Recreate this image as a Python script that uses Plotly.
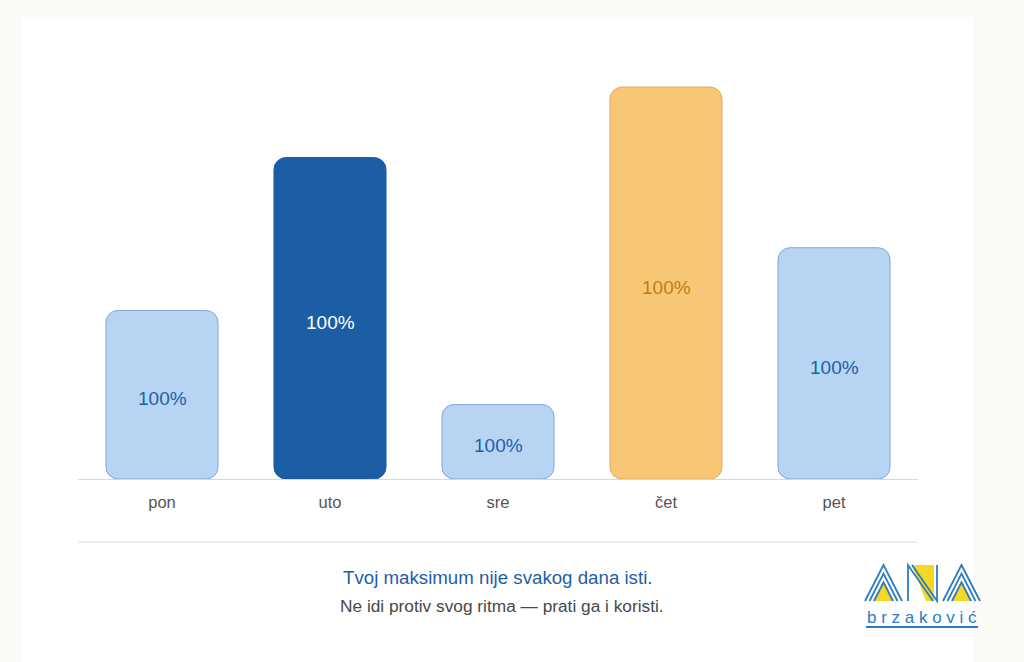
import plotly.graph_objects as go

# ---- data ----
days = ["pon", "uto", "sre", "čet", "pet"]
values = [43, 82, 19, 100, 59]
labels = ["100%", "100%", "100%", "100%", "100%"]
fill_colors = ["#b7d4f3", "#1b5ea6", "#b7d4f3", "#f8c776", "#b7d4f3"]
line_colors = ["#7fa7d8", "#1b5ea6", "#7fa7d8", "#e2aa5e", "#7fa7d8"]
label_colors = ["#1f5ea8", "#ffffff", "#1f5ea8", "#c27c14", "#1f5ea8"]
title = "Tvoj maksimum nije svakog dana isti."
subtitle = "Ne idi protiv svog ritma — prati ga i koristi."

W, H = 1024, 662
L, R, T, B = 78, 106, 47, 183
PW, PH = W - L - R, H - T - B


def px(x):
    return (x - L) / PW


def py(y):
    return (H - B - y) / PH


FONT = "Liberation Sans, Arial, sans-serif"
fig = go.Figure()
fig.add_trace(go.Bar(x=days, y=values, base=[0] * len(values), width=0.667,
                     marker=dict(color=fill_colors, line=dict(color=line_colors, width=1),
                                 cornerradius=12), hoverinfo="skip", showlegend=False))

shapes = [
    dict(type="rect", xref="paper", yref="paper", x0=px(22), x1=px(973), y0=py(17), y1=py(H + 5),
         fillcolor="#ffffff", line=dict(width=0), layer="below"),
    dict(type="line", xref="paper", yref="paper", x0=0, x1=px(917), y0=py(542), y1=py(542),
         line=dict(color="#dedede", width=1)),
]

# ---- logo ----
blue = "#2b7cc4"
yellow = "#f6d726"


def path(pts, close=False):
    s = "M " + " L ".join(f"{px(a)},{py(b)}" for a, b in pts)
    return s + (" Z" if close else "")


for ox in (0, 78):
    shapes.append(dict(type="path", xref="paper", yref="paper",
                       path=path([(ox + 873, 601), (ox + 883.5, 580), (ox + 894, 601)], True),
                       fillcolor=yellow, line=dict(width=0)))
    for i in range(3):
        shapes.append(dict(type="path", xref="paper", yref="paper",
                           path=path([(ox + 865 + 4.5 * i, 601), (ox + 883.5, 565 + 8.7 * i),
                                      (ox + 902 - 4.5 * i, 601)]),
                           line=dict(color=blue, width=1.8)))
shapes.append(dict(type="path", xref="paper", yref="paper",
                   path=path([(912, 565), (934, 565), (934, 601), (926, 601)], True),
                   fillcolor=yellow, line=dict(width=0)))
shapes.append(dict(type="path", xref="paper", yref="paper",
                   path=path([(908, 601), (908, 565), (933, 601)]),
                   line=dict(color=blue, width=1.8)))
shapes.append(dict(type="path", xref="paper", yref="paper",
                   path=path([(912, 565), (937, 601), (937, 565)]),
                   line=dict(color=blue, width=1.8)))
shapes.append(dict(type="line", xref="paper", yref="paper", x0=px(866), x1=px(978),
                   y0=py(627), y1=py(627), line=dict(color=blue, width=2)))

annotations = [
    dict(text=t, x=d, y=v / 2, xref="x", yref="y", showarrow=False, yshift=-4,
         font=dict(family=FONT, size=19, color=c), xanchor="center", yanchor="middle")
    for d, v, t, c in zip(days, values, labels, label_colors)
]
annotations += [
    dict(text=title, x=px(498), y=py(577), xref="paper", yref="paper", showarrow=False,
         font=dict(family=FONT, size=18.7, color="#1f5ea8"), xanchor="center", yanchor="middle"),
    dict(text=subtitle, x=px(502), y=py(606), xref="paper", yref="paper", showarrow=False,
         font=dict(family=FONT, size=17.3, color="#484848"), xanchor="center", yanchor="middle"),
    dict(text="b r z a k o v i ć", x=px(922), y=py(617), xref="paper", yref="paper",
         showarrow=False, font=dict(family=FONT, size=17, color=blue),
         xanchor="center", yanchor="middle"),
]

fig.update_layout(
    width=W, height=H,
    margin=dict(l=L, r=R, t=T, b=B),
    paper_bgcolor="#fbfaf7",
    plot_bgcolor="#ffffff",
    shapes=shapes,
    annotations=annotations,
    xaxis=dict(range=[-0.5, 4.5], showline=True, linecolor="#d8d8d8", linewidth=1,
               showgrid=False, zeroline=False, ticks="", ticklabelstandoff=8,
               tickfont=dict(family=FONT, size=16.5, color="#555555"), fixedrange=True),
    yaxis=dict(range=[0, PH / 3.92], visible=False, showgrid=False, zeroline=False, fixedrange=True),
)

fig.write_html("out.html", config={"displayModeBar": False},
               post_script="document.body.style.margin='0';document.body.style.background='#fbfaf7';")
